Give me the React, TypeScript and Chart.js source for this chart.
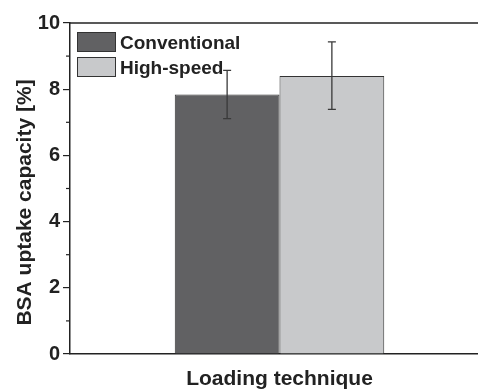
import React, { useEffect, useRef } from "react";
import { Chart, registerables } from "chart.js";

Chart.register(...registerables);

const categories = [""];
const seriesNames = ["Conventional", "High-speed"];
const seriesValues = [[7.84], [8.4]];
const errLow = [[7.11], [7.39]];
const errHigh = [[8.57], [9.43]];
const seriesColors = ["#616163", "#c8c9cb"];
const yTicksMinor = [1, 3, 5, 7, 9];
const yTitle = "BSA uptake capacity [%]";
const xTitle = "Loading technique";

const FONT = '"Liberation Sans", Arial, sans-serif';

const extras = {
  id: "extras",
  afterDatasetsDraw(chart: any) {
    const ctx = chart.ctx;
    const y = chart.scales.y;
    ctx.save();
    ctx.strokeStyle = "#3a3a3a";
    ctx.lineWidth = 1.3;
    chart.data.datasets.forEach((ds: any, i: number) => {
      const meta = chart.getDatasetMeta(i);
      meta.data.forEach((bar: any, j: number) => {
        const x = bar.x;
        const y1 = y.getPixelForValue(errLow[i][j]);
        const y2 = y.getPixelForValue(errHigh[i][j]);
        ctx.beginPath();
        ctx.moveTo(x, y1);
        ctx.lineTo(x, y2);
        ctx.moveTo(x - 4, y1);
        ctx.lineTo(x + 4, y1);
        ctx.moveTo(x - 4, y2);
        ctx.lineTo(x + 4, y2);
        ctx.stroke();
      });
    });
    ctx.restore();
  },
  afterDraw(chart: any) {
    const ctx = chart.ctx;
    const a = chart.chartArea;
    const y = chart.scales.y;
    ctx.save();
    // top frame line
    ctx.strokeStyle = "#222";
    ctx.lineWidth = 1.5;
    ctx.beginPath();
    ctx.moveTo(a.left, a.top);
    ctx.lineTo(a.right + 5, a.top);
    ctx.stroke();
    // minor ticks
    ctx.lineWidth = 1.2;
    yTicksMinor.forEach((v) => {
      const py = y.getPixelForValue(v);
      ctx.beginPath();
      ctx.moveTo(a.left - 4, py);
      ctx.lineTo(a.left, py);
      ctx.stroke();
    });
    // legend
    const lx = 77;
    const ly = [32, 57];
    chart.data.datasets.forEach((ds: any, i: number) => {
      ctx.fillStyle = ds.backgroundColor;
      ctx.fillRect(lx, ly[i], 39, 20);
      ctx.strokeStyle = "#333";
      ctx.lineWidth = 1;
      ctx.strokeRect(lx + 0.5, ly[i] + 0.5, 38, 19);
      ctx.fillStyle = "#222";
      ctx.font = `bold 19px ${FONT}`;
      ctx.textAlign = "left";
      ctx.textBaseline = "alphabetic";
      ctx.fillText(ds.label, 120, ly[i] + 17);
    });
    // titles
    ctx.fillStyle = "#222";
    ctx.font = `bold 21px ${FONT}`;
    ctx.textAlign = "center";
    ctx.textBaseline = "alphabetic";
    ctx.fillText(xTitle, (a.left + a.right) / 2, 385);
    ctx.translate(31, 202.5);
    ctx.rotate(-Math.PI / 2);
    ctx.fillText(yTitle, 0, 0);
    ctx.restore();
  },
};

export default function App() {
  const ref = useRef<HTMLCanvasElement>(null);
  useEffect(() => {
    if (!ref.current) return;
    const chart = new Chart(ref.current, {
      type: "bar",
      data: {
        labels: categories,
        datasets: seriesNames.map((n, i) => ({
          label: n,
          data: seriesValues[i],
          backgroundColor: seriesColors[i],
          borderColor: "#333",
          borderWidth: 1,
          categoryPercentage: 0.5,
          barPercentage: 1.0,
        })),
      },
      options: {
        responsive: false,
        animation: false,
        layout: { padding: { left: 0, top: 23, right: 1, bottom: 0 } },
        plugins: {
          legend: { display: false },
          tooltip: { enabled: false },
        },
        scales: {
          x: {
            grid: { display: false },
            border: { display: true, color: "#222", width: 1.5 },
            ticks: { display: false },
            afterFit: (s: any) => {
              s.height = 35;
            },
          },
          y: {
            min: 0,
            max: 10,
            ticks: {
              stepSize: 2,
              color: "#222",
              padding: 3,
              font: { family: FONT, size: 20, weight: "bold" },
            },
            grid: {
              drawOnChartArea: false,
              drawTicks: true,
              tickLength: 7,
              color: "#222",
              lineWidth: 1.2,
            },
            border: { display: true, color: "#222", width: 1.5 },
            afterFit: (s: any) => {
              s.width = 70;
            },
          },
        },
      },
      plugins: [extras],
    });
    return () => chart.destroy();
  }, []);
  return (
    <div
      style={{
        position: "fixed",
        left: 0,
        top: 0,
        width: 478,
        height: 389,
        overflow: "hidden",
        background: "#fff",
      }}
    >
      <canvas ref={ref} width={490} height={389} style={{ display: "block", width: 490, height: 389 }} />
    </div>
  );
}
